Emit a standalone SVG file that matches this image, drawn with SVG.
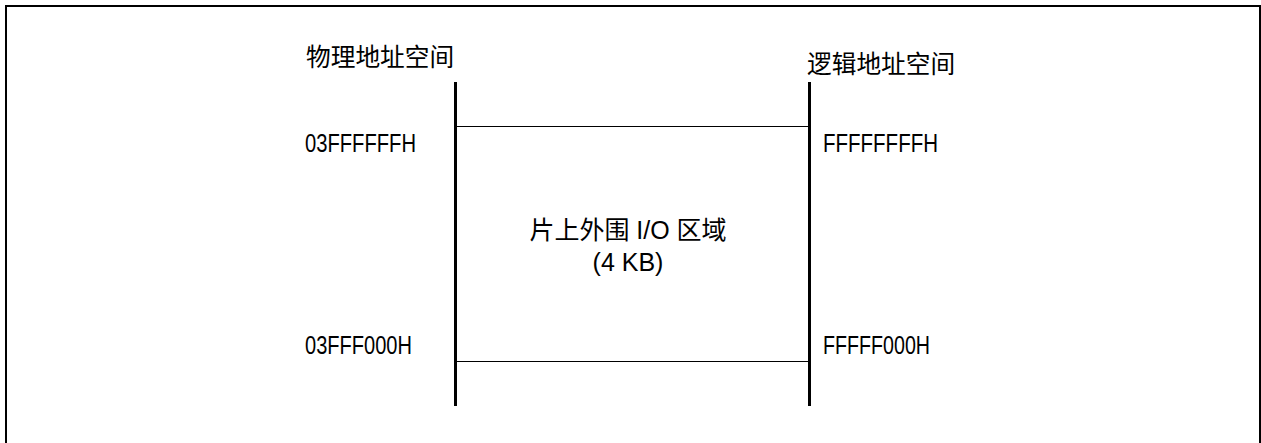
<svg xmlns="http://www.w3.org/2000/svg" width="1261" height="443" viewBox="0 0 1261 443">
<style>
.cjk{font-family:"Liberation Sans","Noto Sans CJK SC",sans-serif;font-size:24.7px;fill:#000}
.addr{font-family:"Liberation Sans",sans-serif;font-size:25px;fill:#000}
.ctr{font-family:"Liberation Sans","Noto Sans CJK SC",sans-serif;font-size:25px;fill:#000;text-anchor:middle}
.axis{stroke:#000;stroke-width:3;fill:none}
.bound{stroke:#000;stroke-width:1.2;fill:none}
</style>
<rect x="6" y="6" width="1254" height="500" fill="none" stroke="#000" stroke-width="2"/>
<g id="physical-space">
<text class="cjk" x="306" y="66">物理地址空间</text>
<line class="axis" x1="455.5" y1="82" x2="455.5" y2="406"/>
<text class="addr" x="305" y="152" textLength="111" lengthAdjust="spacingAndGlyphs">03FFFFFFH</text>
<text class="addr" x="305" y="354" textLength="107" lengthAdjust="spacingAndGlyphs">03FFF000H</text>
</g>
<g id="logical-space">
<text class="cjk" x="807" y="73">逻辑地址空间</text>
<line class="axis" x1="809.5" y1="82" x2="809.5" y2="406"/>
<text class="addr" x="823" y="152" textLength="115" lengthAdjust="spacingAndGlyphs">FFFFFFFFH</text>
<text class="addr" x="823" y="354" textLength="107" lengthAdjust="spacingAndGlyphs">FFFFF000H</text>
</g>
<g id="io-area">
<text class="ctr" x="628" y="239">片上外围 I/O 区域</text>
<text class="ctr" x="628" y="271">(4 KB)</text>
</g>
<g id="connectors">
<line class="bound" x1="457" y1="126.5" x2="808" y2="126.5"/>
<line class="bound" x1="457" y1="361.5" x2="808" y2="361.5"/>
</g>
</svg>
